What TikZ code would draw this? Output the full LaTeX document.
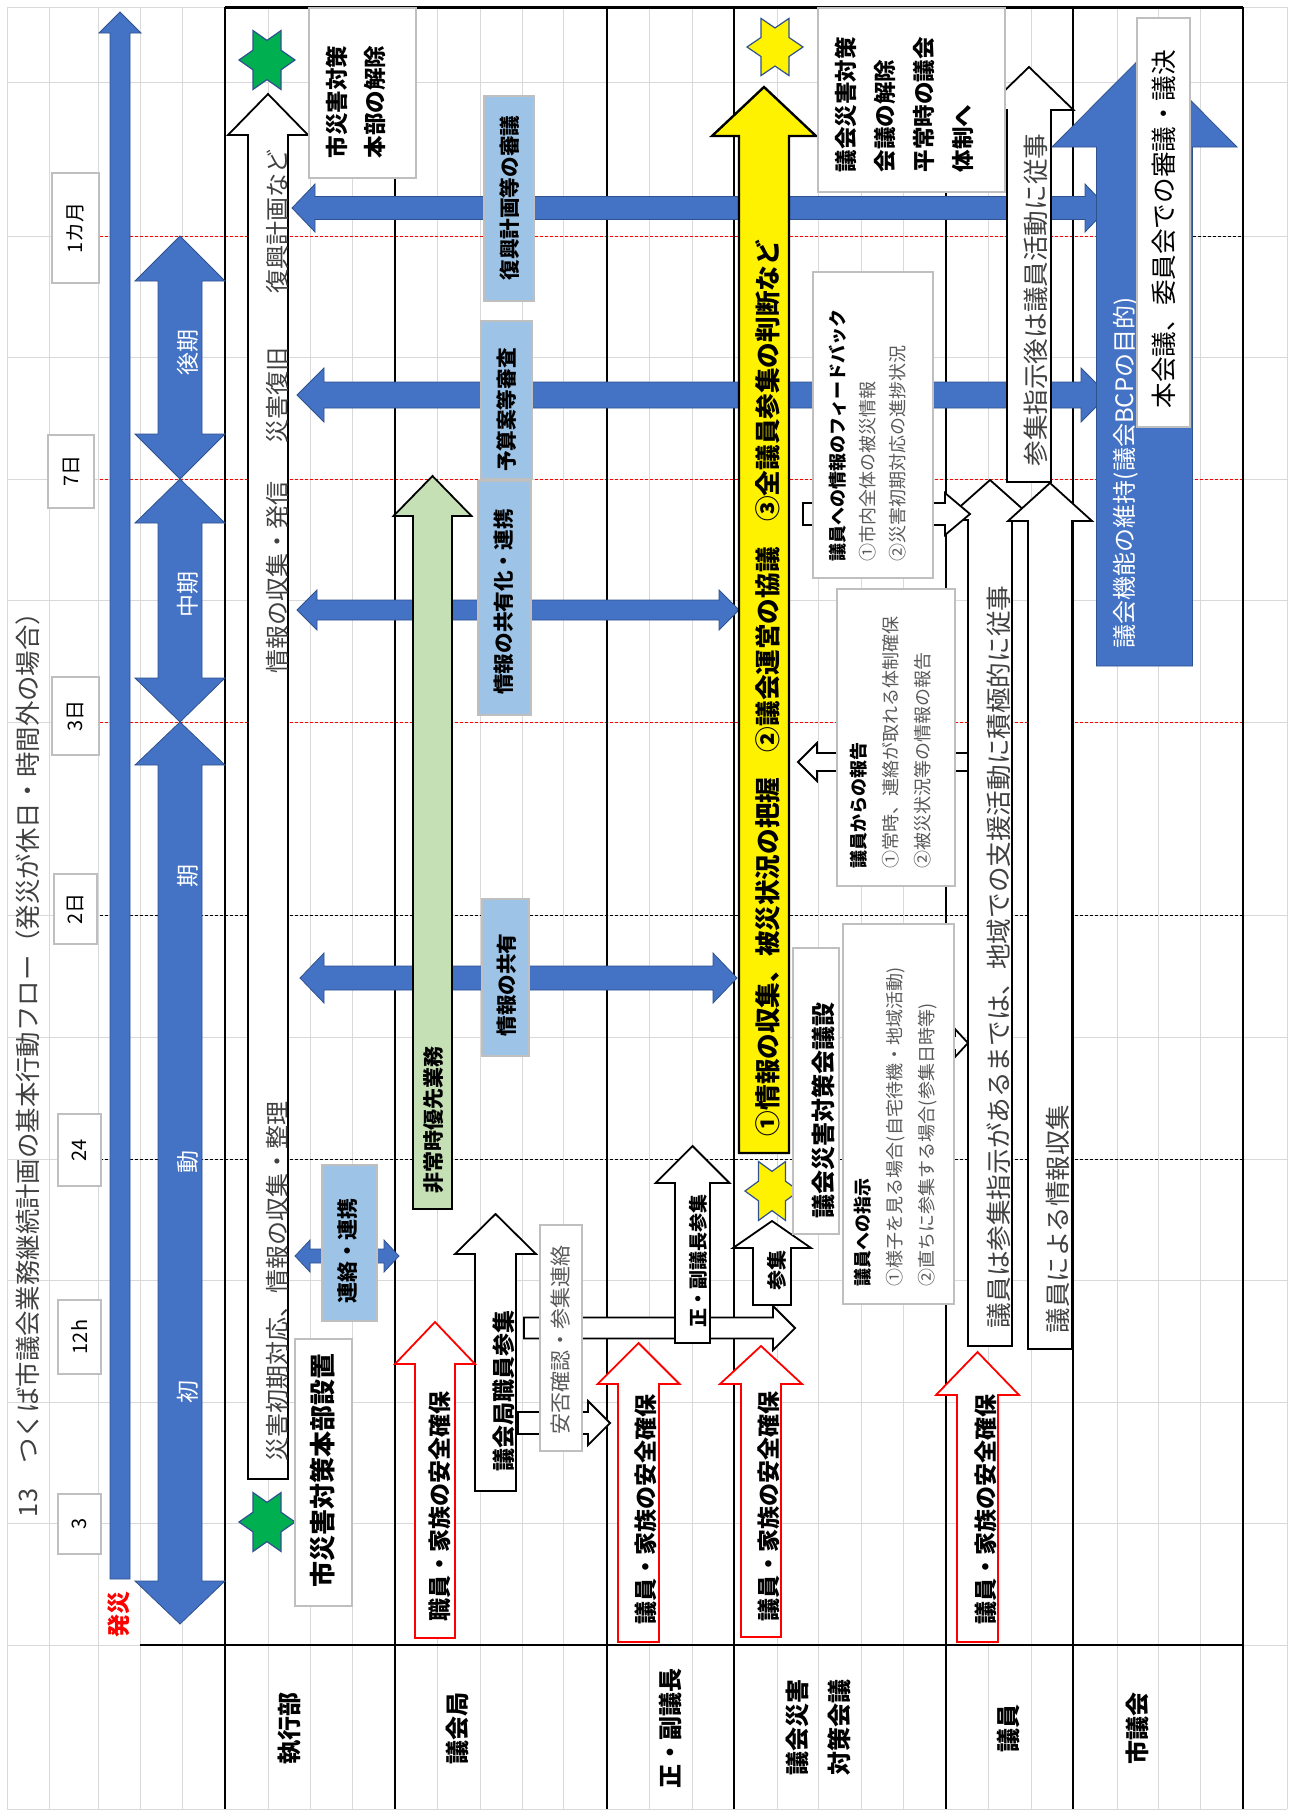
\documentclass[tikz,border=0pt]{standalone}
\usepackage{fontspec}
\setmainfont{Noto Sans CJK JP}
\definecolor{oblue}{HTML}{4472C4}
\definecolor{oblueD}{HTML}{2F528F}
\definecolor{lblue}{HTML}{9DC3E6}
\definecolor{lgreen}{HTML}{C5E0B4}
\definecolor{sgreen}{HTML}{00B050}
\definecolor{boxgray}{HTML}{BFBFBF}
\definecolor{gridgray}{HTML}{D9D9D9}
\definecolor{txtgray}{HTML}{404040}
\definecolor{itemgray}{HTML}{595959}
\newcommand\fz[2]{\fontsize{#1}{#2}\selectfont}
% style, cx, half shaft, half head, ybottom, yheadbase, ytip
\newcommand\UpArr[7]{\draw[#1] ({#2-#3},#5) -- ({#2-#3},#6) -- ({#2-#4},#6) -- (#2,#7) -- ({#2+#4},#6) -- ({#2+#3},#6) -- ({#2+#3},#5) -- cycle;}
% style, cx, half shaft, half head, ytop, ybottom, head length
\newcommand\VDblArr[7]{\draw[#1] (#2,#5) -- ({#2+#4},{#5+#7}) -- ({#2+#3},{#5+#7}) -- ({#2+#3},{#6-#7}) -- ({#2+#4},{#6-#7}) -- (#2,#6) -- ({#2-#4},{#6-#7}) -- ({#2-#3},{#6-#7}) -- ({#2-#3},{#5+#7}) -- ({#2-#4},{#5+#7}) -- cycle;}
% style, xleft tip, xright tip, yc, half shaft, half head, head length
\newcommand\HDblArr[7]{\draw[#1] (#2,#4) -- ({#2+#7},{#4-#6}) -- ({#2+#7},{#4-#5}) -- ({#3-#7},{#4-#5}) -- ({#3-#7},{#4-#6}) -- (#3,#4) -- ({#3-#7},{#4+#6}) -- ({#3-#7},{#4+#5}) -- ({#2+#7},{#4+#5}) -- ({#2+#7},{#4+#6}) -- cycle;}
% style, xtail, xheadbase, xtip, yc, half shaft, half head
\newcommand\HArr[7]{\draw[#1] (#2,{#5-#6}) -- (#3,{#5-#6}) -- (#3,{#5-#7}) -- (#4,#5) -- (#3,{#5+#7}) -- (#3,{#5+#6}) -- (#2,{#5+#6}) -- cycle;}
% style, cx, cy, Rx, Ry
\newcommand\HexStar[5]{\draw[#1] ({#2+#4},{#3}) \foreach \a in {0,60,...,300} { -- ({#2+0.57735*#4*cos(\a+30)},{#3+0.57735*#5*sin(\a+30)}) -- ({#2+#4*cos(\a+60)},{#3+#5*sin(\a+60)}) } -- cycle;}
\tikzset{
 gridline/.style={draw=gridgray, line width=0.5pt},
 reddash/.style={draw=red, line width=0.5pt, dash pattern=on 1.5pt off 1pt},
 blackdash/.style={draw=black, line width=0.5pt, dash pattern=on 1.5pt off 1pt},
 rowline/.style={draw=black, line width=1pt},
 bluearr/.style={fill=oblue, draw=oblueD, line width=0.4pt},
 whitearr/.style={fill=white, draw=black, line width=0.9pt},
 redarr/.style={fill=white, draw=red, line width=0.9pt},
 greenarr/.style={fill=lgreen, draw=black, line width=0.9pt},
 yelarr/.style={fill=yellow, draw=black, line width=1.2pt},
 gstar/.style={fill=sgreen, draw=oblueD, line width=0.6pt},
 ystar/.style={fill=yellow, draw=oblueD, line width=0.6pt},
 graybox/.style={draw=boxgray, fill=white, line width=0.8pt},
 bluebox/.style={draw=boxgray, fill=lblue, line width=0.8pt},
 vt/.style={rotate=90, inner sep=0pt, outer sep=0pt},
 thin text/.style={vt, text=txtgray},
 bold text/.style={vt, text=black, font=\bfseries},
}
\begin{document}
\begin{tikzpicture}[x=0.5pt,y=-0.5pt]
\useasboundingbox (0,0) rectangle (1290,1811);
\fill[white] (0,0) rectangle (1290,1811);
% ---- grid
\foreach \gx in {7,49,98,140,182,268,310,352,437,480,522,563,649,692,777,818,861,903,988,1031,1117,1158,1200,1287}
  \draw[gridline] (\gx,7) -- (\gx,1809);
\foreach \gy in {7,82,236,357,479,600,722,915,1037,1159,1280,1402,1523,1645,1809}
  \draw[gridline] (7,\gy) -- (1287,\gy);
% ---- time lines
\draw[reddash] (100,236) -- (1193,236);
\draw[blackdash] (1193,236) -- (1243,236);
\draw[reddash] (100,479) -- (1243,479);
\draw[reddash] (100,722) -- (1243,722);
\draw[blackdash] (100,915) -- (1243,915);
\draw[blackdash] (100,1159) -- (1243,1159);
% ---- row boundaries
\foreach \gx in {225,395,607,734,946,1073,1243}
  \draw[rowline] (\gx,7) -- (\gx,1809);
\draw[rowline] (140,1645) -- (1243,1645);
\draw[line width=1.5pt] (225,7) -- (1243,7);
% ---- blue horizontal arrows
\HDblArr{bluearr}{292}{1108}{208}{11.5}{24}{23}
\HDblArr{bluearr}{297}{1108}{395}{13}{27}{27}
\HDblArr{bluearr}{297}{739}{610}{10}{20}{20}
\HDblArr{bluearr}{300}{737}{978}{12}{25}{24}
\path[bluebox] (484,96) rectangle (534,301);
\node[bold text, font=\fz{10.3pt}{12pt}\bfseries] (lb1) at (510,198) {復興計画等の審議};
\path[bluebox] (481,321) rectangle (532,479);
\node[bold text, font=\fz{10.3pt}{12pt}\bfseries] (lb2) at (507,410) {予算案等審査};
\path[bluebox] (478,481) rectangle (531,715);
\node[bold text, font=\fz{10.3pt}{12pt}\bfseries] (lb3) at (504,602) {情報の共有化・連携};
\path[bluebox] (482,899) rectangle (529,1056);
\node[bold text, font=\fz{10.3pt}{12pt}\bfseries] (lb4) at (507,985) {情報の共有};
% ---- renraku
\HDblArr{bluearr}{295}{399}{1256}{7}{16}{15}
\path[bluebox] (322,1165) rectangle (377,1321);
\node[bold text, font=\fz{10.5pt}{12pt}\bfseries] (renraku) at (348,1251) {連絡・連携};
% ---- shikkobu arrow
\UpArr{whitearr}{268}{20}{40}{1479}{135}{94}
\node[thin text, font=\fz{12pt}{14pt}, anchor=west] (s1) at (277,1461) {災害初期対応、情報の収集・整理};
\node[thin text, font=\fz{12pt}{14pt}, anchor=west] (s2) at (277,673) {情報の収集・発信};
\node[thin text, font=\fz{12pt}{14pt}, anchor=west] (s3) at (277,443) {災害復旧};
\node[thin text, font=\fz{12pt}{14pt}, anchor=west] (s4) at (277,293) {復興計画など};
% ---- green arrow
\UpArr{greenarr}{432.5}{19.5}{39}{1209}{516}{476}
\node[bold text, font=\fz{10.5pt}{12pt}\bfseries] (hijo) at (434,1120) {非常時優先業務};
% ---- horizontal white arrows from gikaikyoku
\HArr{whitearr}{524}{773}{795}{1328}{10.5}{22}
\HArr{whitearr}{518}{588}{610}{1423}{11}{22}
\path[graybox] (540,1225) rectangle (582,1451);
\node[vt, text=itemgray, font=\fz{10.5pt}{12pt}] (anpi) at (561,1340) {安否確認・参集連絡};
\UpArr{whitearr}{495.5}{20.5}{40.5}{1491}{1254}{1214}
\node[bold text, font=\fz{11.5pt}{13pt}\bfseries] (shokuin) at (504,1391) {議会局職員参集};
\UpArr{whitearr}{692.5}{17.5}{37}{1343}{1183}{1146}
\node[bold text, font=\fz{9.5pt}{11pt}\bfseries] (seifuku) at (698,1261) {正・副議長参集};
% ---- red arrows
\UpArr{redarr}{435}{20}{40}{1638}{1364}{1322}
\node[bold text, font=\fz{11.5pt}{13pt}\bfseries] (r1) at (440,1506) {職員・家族の安全確保};
\UpArr{redarr}{638.5}{20.5}{41}{1642}{1384}{1343}
\node[bold text, font=\fz{11.5pt}{13pt}\bfseries] (r2) at (646,1509) {議員・家族の安全確保};
\UpArr{redarr}{761}{20}{41}{1637}{1384}{1346}
\node[bold text, font=\fz{11.5pt}{13pt}\bfseries] (r3) at (769,1506) {議員・家族の安全確保};
\UpArr{redarr}{977.5}{20.5}{41.5}{1642}{1395}{1352}
\node[bold text, font=\fz{11.5pt}{13pt}\bfseries] (r4) at (986,1509) {議員・家族の安全確保};
% ---- yellow arrow and stars
\UpArr{yelarr}{764}{25}{52}{1153}{136}{87}
\node[bold text, font=\fz{12.8pt}{14pt}\bfseries, anchor=west] (yel) at (768,1136) {①情報の収集、被災状況の把握　②議会運営の協議　③全議員参集の判断など};
\HexStar{ystar}{775}{47}{28}{33}
\HexStar{ystar}{772}{1191}{27}{34}
\HexStar{gstar}{267}{60}{28}{34}
\HexStar{gstar}{267}{1522}{28}{34}
\UpArr{whitearr}{772}{19}{39}{1305}{1248}{1221}
\node[bold text, font=\fz{10pt}{12pt}\bfseries] (sanshu) at (777,1270) {参集};
% ---- giin arrows
\UpArr{whitearr}{990}{22}{45}{1346}{520}{480}
\UpArr{whitearr}{1050}{22}{42}{1349}{521}{483}
\UpArr{whitearr}{1029}{22}{44.5}{482}{110}{67}
\node[thin text, font=\fz{12.8pt}{14pt}, anchor=west] (giin1) at (999,1328) {議員は参集指示があるまでは、地域での支援活動に積極的に従事};
\node[thin text, font=\fz{12.7pt}{14pt}, anchor=west] (giin2) at (1058,1333) {議員による情報収集};
\node[thin text, font=\fz{12.8pt}{14pt}] (giin3) at (1036,300) {参集指示後は議員活動に従事};
\HArr{whitearr}{968}{817}{798}{762}{9}{19}
\HArr{whitearr}{803}{945}{970}{514}{11}{21}
\HArr{whitearr}{900}{955}{968}{1043}{7}{14}
% ---- text boxes
\path[graybox] (813,272) rectangle (933,578);
\node[vt, text=itemgray, align=left, font=\fz{9pt}{15pt}, anchor=west] (fb) at (868,561) {\textcolor{black}{\bfseries 議員への情報のフィードバック}\\①市内全体の被災情報\\②災害初期対応の進捗状況};
\path[graybox] (837,589) rectangle (955,886);
\node[vt, text=itemgray, align=left, font=\fz{9pt}{16pt}, anchor=west] (hokoku) at (891,868) {\textcolor{black}{\bfseries 議員からの報告}\\①常時、連絡が取れる体制確保\\②被災状況等の情報の報告};
\path[graybox] (843,924) rectangle (954,1304);
\node[vt, text=itemgray, align=left, font=\fz{9pt}{16pt}, anchor=west] (shiji) at (896,1286) {\textcolor{black}{\bfseries 議員への指示}\\①様子を見る場合(自宅待機・地域活動)\\②直ちに参集する場合(参集日時等)};
\path[graybox] (793,948) rectangle (839,1234);
\node[bold text, font=\fz{12pt}{14pt}\bfseries, anchor=west] (setchi2) at (823,1218) {議会災害対策会議設};
\path[graybox] (818,8) rectangle (1005,192);
\node[bold text, align=left, font=\fz{11.25pt}{19.5pt}\bfseries, anchor=west] (kaijo2) at (904.5,172) {議会災害対策\\会議の解除\\平常時の議会\\体制へ};
\path[graybox] (309,8) rectangle (416,178);
\node[bold text, align=left, font=\fz{11.25pt}{19pt}\bfseries, anchor=west] (kaijo1) at (356,158) {市災害対策\\本部の解除};
\path[graybox] (295,1339) rectangle (352,1606);
\node[bold text, font=\fz{13pt}{15pt}\bfseries] (setchi1) at (323,1470) {市災害対策本部設置};
% ---- shigikai
\UpArr{bluearr}{1144.5}{48}{92.5}{666}{147}{54}
\node[vt, text=white, font=\fz{12pt}{14pt}, anchor=west] (bcp) at (1126,648) {議会機能の維持(議会BCPの目的)};
\path[graybox] (1137,18) rectangle (1190,427);
\node[vt, text=black, font=\fz{12.8pt}{14pt}] (honkaigi) at (1164,229) {本会議、委員会での審議・議決};
% ---- time scale
\UpArr{bluearr}{120}{10}{21}{1579}{33}{12}
\VDblArr{bluearr}{180}{22}{45}{236}{479}{45}
\VDblArr{bluearr}{180}{22}{45}{479}{722}{44}
\VDblArr{bluearr}{180}{22}{45}{722}{1624}{43}
\node[vt, text=white, font=\fz{11.5pt}{13pt}] (p1) at (188,352) {後期};
\node[vt, text=white, font=\fz{11.5pt}{13pt}] (p2) at (188,594) {中期};
\node[vt, text=white, font=\fz{11.5pt}{13pt}] (p3) at (188,876) {期};
\node[vt, text=white, font=\fz{11.5pt}{13pt}] (p4) at (188,1162) {動};
\node[vt, text=white, font=\fz{11.5pt}{13pt}] (p5) at (188,1392) {初};
\node[vt, text=red, font=\fz{11.5pt}{13pt}\bfseries] (hassai) at (119,1614) {発災};
\path[graybox] (52,173) rectangle (99,283);
\node[vt, text=black, font=\fz{10pt}{12pt}] (t1) at (75.5,228) {1カ月};
\path[graybox] (48,435) rectangle (94,508);
\node[vt, text=black, font=\fz{10pt}{12pt}] (t2) at (71,471) {7日};
\path[graybox] (52,677) rectangle (99,755);
\node[vt, text=black, font=\fz{10pt}{12pt}] (t3) at (75.5,716) {3日};
\path[graybox] (54,874) rectangle (97,944);
\node[vt, text=black, font=\fz{10pt}{12pt}] (t4) at (75.5,909) {2日};
\path[graybox] (58,1114) rectangle (101,1186);
\node[vt, text=black, font=\fz{10pt}{12pt}] (t5) at (79.5,1150) {24};
\path[graybox] (58,1300) rectangle (101,1374);
\node[vt, text=black, font=\fz{10pt}{12pt}] (t6) at (79.5,1337) {12h};
\path[graybox] (58,1494) rectangle (101,1554);
\node[vt, text=black, font=\fz{10pt}{12pt}] (t7) at (79.5,1524) {3};
\node[thin text, font=\fz{12.7pt}{14pt}, anchor=west] (title) at (28,1517) {13　つくば市議会業務継続計画の基本行動フロー（発災が休日・時間外の場合）};
% ---- row labels
\node[bold text, font=\fz{12pt}{14pt}\bfseries] (h1) at (290,1728) {執行部};
\node[bold text, font=\fz{12pt}{14pt}\bfseries] (h2) at (457,1728) {議会局};
\node[bold text, font=\fz{12pt}{14pt}\bfseries] (h3) at (670,1728) {正・副議長};
\node[bold text, align=left, font=\fz{12pt}{21pt}\bfseries] (h4) at (818,1727) {議会災害\\対策会議};
\node[bold text, font=\fz{12pt}{14pt}\bfseries] (h5) at (1008,1728) {議員};
\node[bold text, font=\fz{12pt}{14pt}\bfseries] (h6) at (1137,1728) {市議会};
\end{tikzpicture}
\end{document}
